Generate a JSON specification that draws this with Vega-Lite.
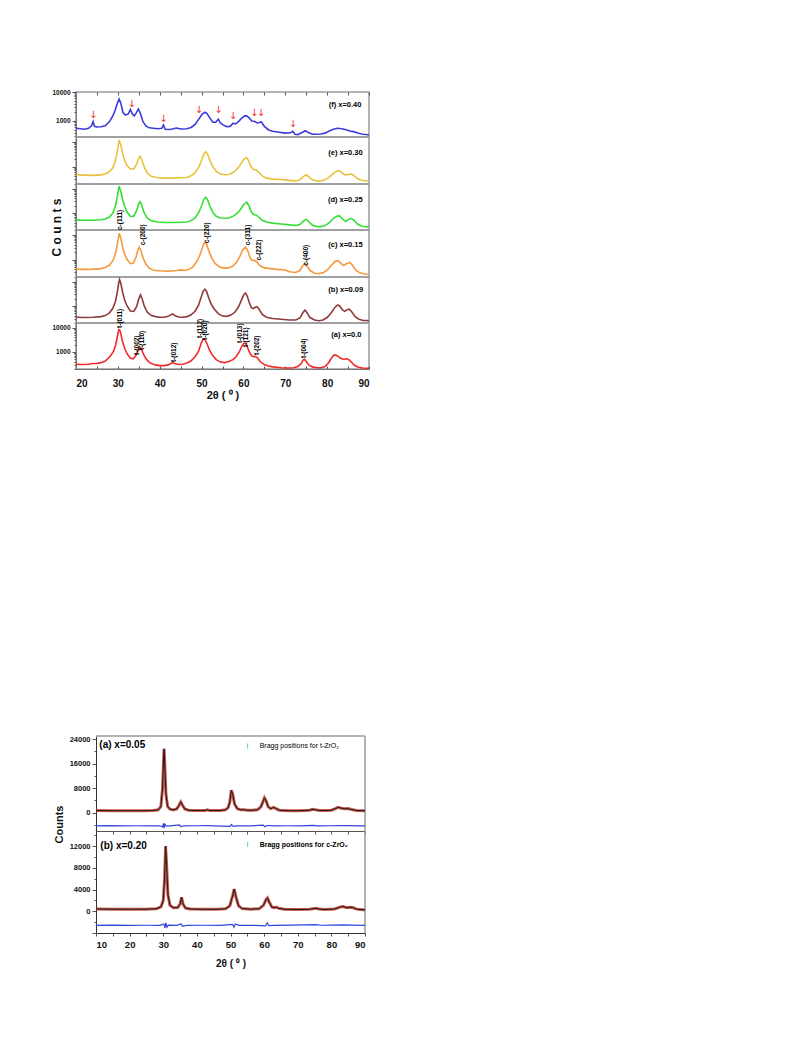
{
"$schema": "https://vega.github.io/schema/vega-lite/v6.json",
"background": "white",
"padding": {"left": 49, "top": 88, "right": 5, "bottom": 5},
"config": {
 "view": {"stroke": "#9a9a9a", "strokeWidth": 1.5},
 "axis": {"labelFont": "Liberation Sans", "labelFontWeight": "bold", "titleFont": "Liberation Sans", "titleFontWeight": "bold", "domainColor": "#777", "tickColor": "#555", "labelColor": "#111", "titleColor": "#111", "grid": false, "domainWidth": 1},
 "text": {"font": "Liberation Sans"}
},
"datasets": {
 "top": [
  {"p":"f","t":20,"v":560},{"p":"f","t":21,"v":540},{"p":"f","t":22,"v":520},{"p":"f","t":23,"v":560},{"p":"f","t":23.7,"v":680},{"p":"f","t":24.1,"v":950},{"p":"f","t":24.4,"v":650},{"p":"f","t":25,"v":620},{"p":"f","t":26,"v":630},{"p":"f","t":27,"v":680},{"p":"f","t":28,"v":950},{"p":"f","t":28.7,"v":1400},{"p":"f","t":29.3,"v":2200},{"p":"f","t":29.8,"v":3800},{"p":"f","t":30.3,"v":5700},{"p":"f","t":30.7,"v":4200},{"p":"f","t":31.2,"v":2000},{"p":"f","t":31.8,"v":1600},{"p":"f","t":32.5,"v":1750},{"p":"f","t":33.0,"v":2500},{"p":"f","t":33.4,"v":1800},{"p":"f","t":33.9,"v":1500},{"p":"f","t":34.4,"v":1900},{"p":"f","t":34.9,"v":2600},{"p":"f","t":35.4,"v":1800},{"p":"f","t":36,"v":950},{"p":"f","t":36.7,"v":680},{"p":"f","t":37.5,"v":580},{"p":"f","t":38.5,"v":560},{"p":"f","t":39.5,"v":540},{"p":"f","t":40.5,"v":560},{"p":"f","t":40.9,"v":730},{"p":"f","t":41.3,"v":520},{"p":"f","t":42.5,"v":510},{"p":"f","t":44,"v":570},{"p":"f","t":45,"v":530},{"p":"f","t":46.5,"v":540},{"p":"f","t":47.5,"v":600},{"p":"f","t":48.5,"v":780},{"p":"f","t":49.1,"v":1050},{"p":"f","t":49.5,"v":1250},{"p":"f","t":50.1,"v":1700},{"p":"f","t":50.8,"v":2000},{"p":"f","t":51.3,"v":1800},{"p":"f","t":52,"v":1250},{"p":"f","t":52.7,"v":900},{"p":"f","t":53.4,"v":900},{"p":"f","t":54,"v":1150},{"p":"f","t":54.5,"v":850},{"p":"f","t":55.2,"v":720},{"p":"f","t":56,"v":640},{"p":"f","t":56.8,"v":650},{"p":"f","t":57.5,"v":830},{"p":"f","t":58.1,"v":800},{"p":"f","t":58.8,"v":950},{"p":"f","t":59.6,"v":1250},{"p":"f","t":60.3,"v":1500},{"p":"f","t":60.8,"v":1520},{"p":"f","t":61.4,"v":1250},{"p":"f","t":62,"v":1000},{"p":"f","t":62.6,"v":980},{"p":"f","t":63.3,"v":850},{"p":"f","t":63.8,"v":880},{"p":"f","t":64.3,"v":920},{"p":"f","t":65,"v":650},{"p":"f","t":66,"v":490},{"p":"f","t":67,"v":440},{"p":"f","t":68.5,"v":410},{"p":"f","t":70,"v":380},{"p":"f","t":71.2,"v":390},{"p":"f","t":71.8,"v":440},{"p":"f","t":72.3,"v":350},{"p":"f","t":73,"v":340},{"p":"f","t":74,"v":400},{"p":"f","t":74.8,"v":460},{"p":"f","t":75.5,"v":400},{"p":"f","t":76.5,"v":350},{"p":"f","t":77.5,"v":350},{"p":"f","t":78.5,"v":355},{"p":"f","t":79.5,"v":380},{"p":"f","t":80.5,"v":450},{"p":"f","t":81.5,"v":520},{"p":"f","t":82.5,"v":560},{"p":"f","t":83.5,"v":540},{"p":"f","t":84.5,"v":500},{"p":"f","t":85.5,"v":450},{"p":"f","t":86.5,"v":420},{"p":"f","t":87.5,"v":380},{"p":"f","t":88.5,"v":350},{"p":"f","t":89.3,"v":340},{"p":"f","t":90,"v":330},

  {"p":"e","t":20,"v":465},{"p":"e","t":22,"v":450},{"p":"e","t":24,"v":440},{"p":"e","t":26,"v":460},{"p":"e","t":27,"v":500},{"p":"e","t":28,"v":620},{"p":"e","t":28.8,"v":900},{"p":"e","t":29.4,"v":1700},{"p":"e","t":29.9,"v":4500},{"p":"e","t":30.3,"v":12000},{"p":"e","t":30.7,"v":7500},{"p":"e","t":31.1,"v":3600},{"p":"e","t":31.6,"v":1800},{"p":"e","t":32.2,"v":1100},{"p":"e","t":33,"v":800},{"p":"e","t":33.8,"v":800},{"p":"e","t":34.5,"v":1300},{"p":"e","t":35,"v":2200},{"p":"e","t":35.3,"v":2600},{"p":"e","t":35.7,"v":1900},{"p":"e","t":36.3,"v":950},{"p":"e","t":37,"v":560},{"p":"e","t":38,"v":400},{"p":"e","t":39.5,"v":350},{"p":"e","t":41,"v":340},{"p":"e","t":43,"v":340},{"p":"e","t":45,"v":350},{"p":"e","t":46.5,"v":360},{"p":"e","t":47.5,"v":420},{"p":"e","t":48.5,"v":580},{"p":"e","t":49.4,"v":1000},{"p":"e","t":50.1,"v":2000},{"p":"e","t":50.6,"v":3400},{"p":"e","t":51,"v":4000},{"p":"e","t":51.4,"v":3300},{"p":"e","t":52,"v":1800},{"p":"e","t":52.7,"v":1000},{"p":"e","t":53.5,"v":650},{"p":"e","t":54.5,"v":500},{"p":"e","t":55.5,"v":465},{"p":"e","t":56.5,"v":480},{"p":"e","t":57.5,"v":570},{"p":"e","t":58.5,"v":800},{"p":"e","t":59.3,"v":1200},{"p":"e","t":60,"v":1900},{"p":"e","t":60.7,"v":2300},{"p":"e","t":61.2,"v":1800},{"p":"e","t":61.8,"v":1000},{"p":"e","t":62.4,"v":760},{"p":"e","t":63,"v":730},{"p":"e","t":63.6,"v":600},{"p":"e","t":64.5,"v":420},{"p":"e","t":65.5,"v":340},{"p":"e","t":67,"v":310},{"p":"e","t":69,"v":300},{"p":"e","t":71,"v":275},{"p":"e","t":72.5,"v":260},{"p":"e","t":73.5,"v":290},{"p":"e","t":74.3,"v":390},{"p":"e","t":75,"v":465},{"p":"e","t":75.6,"v":380},{"p":"e","t":76.5,"v":290},{"p":"e","t":77.5,"v":260},{"p":"e","t":78.5,"v":260},{"p":"e","t":79.5,"v":290},{"p":"e","t":80.5,"v":370},{"p":"e","t":81.5,"v":530},{"p":"e","t":82.4,"v":660},{"p":"e","t":83,"v":680},{"p":"e","t":83.7,"v":520},{"p":"e","t":84.4,"v":460},{"p":"e","t":85.1,"v":480},{"p":"e","t":85.8,"v":500},{"p":"e","t":86.5,"v":420},{"p":"e","t":87.3,"v":320},{"p":"e","t":88.3,"v":280},{"p":"e","t":89.2,"v":265},{"p":"e","t":90,"v":260},

  {"p":"d","t":20,"v":515},{"p":"d","t":22,"v":500},{"p":"d","t":24,"v":500},{"p":"d","t":26,"v":520},{"p":"d","t":27,"v":560},{"p":"d","t":28,"v":680},{"p":"d","t":28.8,"v":1000},{"p":"d","t":29.4,"v":1900},{"p":"d","t":29.9,"v":5000},{"p":"d","t":30.3,"v":13000},{"p":"d","t":30.7,"v":8000},{"p":"d","t":31.1,"v":3800},{"p":"d","t":31.6,"v":1900},{"p":"d","t":32.2,"v":1100},{"p":"d","t":33,"v":720},{"p":"d","t":33.8,"v":740},{"p":"d","t":34.5,"v":1300},{"p":"d","t":35,"v":2500},{"p":"d","t":35.3,"v":2950},{"p":"d","t":35.7,"v":2100},{"p":"d","t":36.3,"v":1000},{"p":"d","t":37,"v":620},{"p":"d","t":38,"v":470},{"p":"d","t":39.5,"v":420},{"p":"d","t":41,"v":400},{"p":"d","t":43,"v":400},{"p":"d","t":45,"v":410},{"p":"d","t":46.5,"v":420},{"p":"d","t":47.5,"v":480},{"p":"d","t":48.5,"v":640},{"p":"d","t":49.4,"v":1100},{"p":"d","t":50.1,"v":2200},{"p":"d","t":50.6,"v":3800},{"p":"d","t":51,"v":4500},{"p":"d","t":51.4,"v":3600},{"p":"d","t":52,"v":1900},{"p":"d","t":52.7,"v":1050},{"p":"d","t":53.5,"v":730},{"p":"d","t":54.5,"v":620},{"p":"d","t":55.5,"v":600},{"p":"d","t":56.5,"v":620},{"p":"d","t":57.5,"v":720},{"p":"d","t":58.5,"v":950},{"p":"d","t":59.3,"v":1400},{"p":"d","t":60,"v":2200},{"p":"d","t":60.8,"v":2800},{"p":"d","t":61.3,"v":2000},{"p":"d","t":61.9,"v":1100},{"p":"d","t":62.5,"v":850},{"p":"d","t":63,"v":830},{"p":"d","t":63.6,"v":680},{"p":"d","t":64.5,"v":500},{"p":"d","t":65.5,"v":420},{"p":"d","t":67,"v":380},{"p":"d","t":69,"v":350},{"p":"d","t":71,"v":320},{"p":"d","t":72.5,"v":300},{"p":"d","t":73.5,"v":330},{"p":"d","t":74.3,"v":460},{"p":"d","t":75,"v":550},{"p":"d","t":75.6,"v":430},{"p":"d","t":76.5,"v":310},{"p":"d","t":77.5,"v":275},{"p":"d","t":78.5,"v":270},{"p":"d","t":79.5,"v":300},{"p":"d","t":80.5,"v":400},{"p":"d","t":81.5,"v":600},{"p":"d","t":82.4,"v":740},{"p":"d","t":83,"v":760},{"p":"d","t":83.7,"v":560},{"p":"d","t":84.4,"v":440},{"p":"d","t":85.1,"v":540},{"p":"d","t":85.8,"v":600},{"p":"d","t":86.5,"v":480},{"p":"d","t":87.3,"v":340},{"p":"d","t":88.3,"v":280},{"p":"d","t":89.2,"v":270},{"p":"d","t":90,"v":265},

  {"p":"c","t":20,"v":410},{"p":"c","t":22,"v":400},{"p":"c","t":24,"v":410},{"p":"c","t":26,"v":430},{"p":"c","t":27,"v":480},{"p":"c","t":28,"v":600},{"p":"c","t":28.8,"v":900},{"p":"c","t":29.4,"v":1700},{"p":"c","t":29.9,"v":4500},{"p":"c","t":30.3,"v":11700},{"p":"c","t":30.7,"v":7500},{"p":"c","t":31.1,"v":3500},{"p":"c","t":31.6,"v":1700},{"p":"c","t":32.2,"v":1000},{"p":"c","t":33,"v":680},{"p":"c","t":33.7,"v":720},{"p":"c","t":34.3,"v":1200},{"p":"c","t":34.8,"v":2500},{"p":"c","t":35.1,"v":3250},{"p":"c","t":35.5,"v":2400},{"p":"c","t":36,"v":1200},{"p":"c","t":36.7,"v":650},{"p":"c","t":37.5,"v":450},{"p":"c","t":38.5,"v":370},{"p":"c","t":40,"v":350},{"p":"c","t":42,"v":340},{"p":"c","t":44,"v":360},{"p":"c","t":45,"v":380},{"p":"c","t":46,"v":360},{"p":"c","t":47,"v":400},{"p":"c","t":48,"v":520},{"p":"c","t":49,"v":900},{"p":"c","t":49.7,"v":1700},{"p":"c","t":50.3,"v":3500},{"p":"c","t":50.8,"v":5300},{"p":"c","t":51.2,"v":4200},{"p":"c","t":51.8,"v":2100},{"p":"c","t":52.5,"v":1100},{"p":"c","t":53.3,"v":680},{"p":"c","t":54.3,"v":500},{"p":"c","t":55.3,"v":450},{"p":"c","t":56.3,"v":460},{"p":"c","t":57.3,"v":520},{"p":"c","t":58.3,"v":750},{"p":"c","t":59.1,"v":1300},{"p":"c","t":59.8,"v":2400},{"p":"c","t":60.5,"v":3250},{"p":"c","t":61,"v":2400},{"p":"c","t":61.5,"v":1300},{"p":"c","t":62,"v":950},{"p":"c","t":62.6,"v":930},{"p":"c","t":63.2,"v":800},{"p":"c","t":64,"v":560},{"p":"c","t":65,"v":460},{"p":"c","t":66,"v":440},{"p":"c","t":68,"v":400},{"p":"c","t":70,"v":380},{"p":"c","t":71,"v":320},{"p":"c","t":72.5,"v":300},{"p":"c","t":73.5,"v":360},{"p":"c","t":74.2,"v":580},{"p":"c","t":74.7,"v":700},{"p":"c","t":75.2,"v":540},{"p":"c","t":76,"v":350},{"p":"c","t":77,"v":280},{"p":"c","t":78,"v":270},{"p":"c","t":79,"v":290},{"p":"c","t":80,"v":370},{"p":"c","t":81,"v":580},{"p":"c","t":81.9,"v":850},{"p":"c","t":82.6,"v":910},{"p":"c","t":83.2,"v":720},{"p":"c","t":83.9,"v":580},{"p":"c","t":84.6,"v":680},{"p":"c","t":85.4,"v":770},{"p":"c","t":86,"v":600},{"p":"c","t":86.8,"v":380},{"p":"c","t":87.8,"v":290},{"p":"c","t":89,"v":260},{"p":"c","t":90,"v":250},

  {"p":"b","t":20,"v":340},{"p":"b","t":22,"v":330},{"p":"b","t":24,"v":340},{"p":"b","t":26,"v":360},{"p":"b","t":27,"v":400},{"p":"b","t":28,"v":520},{"p":"b","t":28.8,"v":800},{"p":"b","t":29.4,"v":1500},{"p":"b","t":29.9,"v":4000},{"p":"b","t":30.2,"v":9000},{"p":"b","t":30.4,"v":12500},{"p":"b","t":30.7,"v":9000},{"p":"b","t":31.1,"v":4000},{"p":"b","t":31.6,"v":1800},{"p":"b","t":32.2,"v":1000},{"p":"b","t":33,"v":620},{"p":"b","t":33.8,"v":600},{"p":"b","t":34.5,"v":950},{"p":"b","t":35,"v":2000},{"p":"b","t":35.4,"v":2900},{"p":"b","t":35.8,"v":2000},{"p":"b","t":36.3,"v":1000},{"p":"b","t":37,"v":560},{"p":"b","t":38,"v":400},{"p":"b","t":39,"v":360},{"p":"b","t":40,"v":340},{"p":"b","t":41,"v":340},{"p":"b","t":42,"v":370},{"p":"b","t":42.7,"v":430},{"p":"b","t":43.1,"v":470},{"p":"b","t":43.6,"v":400},{"p":"b","t":44.5,"v":350},{"p":"b","t":45.5,"v":340},{"p":"b","t":46.5,"v":360},{"p":"b","t":47.5,"v":430},{"p":"b","t":48.5,"v":620},{"p":"b","t":49.3,"v":1100},{"p":"b","t":49.9,"v":2300},{"p":"b","t":50.4,"v":4200},{"p":"b","t":50.8,"v":5000},{"p":"b","t":51.2,"v":4000},{"p":"b","t":51.7,"v":2200},{"p":"b","t":52.3,"v":1200},{"p":"b","t":53,"v":750},{"p":"b","t":54,"v":480},{"p":"b","t":55,"v":380},{"p":"b","t":56,"v":370},{"p":"b","t":57,"v":420},{"p":"b","t":58,"v":560},{"p":"b","t":58.8,"v":900},{"p":"b","t":59.5,"v":1700},{"p":"b","t":60.1,"v":3000},{"p":"b","t":60.5,"v":3400},{"p":"b","t":60.9,"v":2600},{"p":"b","t":61.4,"v":1400},{"p":"b","t":61.9,"v":850},{"p":"b","t":62.4,"v":780},{"p":"b","t":62.9,"v":900},{"p":"b","t":63.3,"v":920},{"p":"b","t":63.8,"v":700},{"p":"b","t":64.5,"v":450},{"p":"b","t":65.5,"v":340},{"p":"b","t":67,"v":300},{"p":"b","t":69,"v":280},{"p":"b","t":71,"v":260},{"p":"b","t":72.5,"v":260},{"p":"b","t":73.5,"v":320},{"p":"b","t":74.2,"v":520},{"p":"b","t":74.7,"v":680},{"p":"b","t":75.2,"v":520},{"p":"b","t":75.9,"v":330},{"p":"b","t":77,"v":260},{"p":"b","t":78,"v":245},{"p":"b","t":79,"v":260},{"p":"b","t":80,"v":330},{"p":"b","t":81,"v":520},{"p":"b","t":81.8,"v":850},{"p":"b","t":82.5,"v":1100},{"p":"b","t":83,"v":1000},{"p":"b","t":83.6,"v":700},{"p":"b","t":84.2,"v":600},{"p":"b","t":84.8,"v":700},{"p":"b","t":85.3,"v":740},{"p":"b","t":85.9,"v":560},{"p":"b","t":86.7,"v":360},{"p":"b","t":87.6,"v":280},{"p":"b","t":88.6,"v":250},{"p":"b","t":90,"v":245},

  {"p":"a","t":20,"v":310},{"p":"a","t":21,"v":300},{"p":"a","t":22,"v":300},{"p":"a","t":23,"v":310},{"p":"a","t":24,"v":330},{"p":"a","t":25,"v":330},{"p":"a","t":26,"v":360},{"p":"a","t":27,"v":420},{"p":"a","t":28,"v":620},{"p":"a","t":28.5,"v":800},{"p":"a","t":29,"v":1100},{"p":"a","t":29.5,"v":2000},{"p":"a","t":29.9,"v":4500},{"p":"a","t":30.2,"v":8500},{"p":"a","t":30.5,"v":8000},{"p":"a","t":30.8,"v":4800},{"p":"a","t":31.2,"v":2400},{"p":"a","t":31.7,"v":1300},{"p":"a","t":32.3,"v":800},{"p":"a","t":33,"v":560},{"p":"a","t":33.7,"v":520},{"p":"a","t":34.3,"v":700},{"p":"a","t":34.8,"v":1200},{"p":"a","t":35.2,"v":1650},{"p":"a","t":35.6,"v":1400},{"p":"a","t":36,"v":900},{"p":"a","t":36.6,"v":560},{"p":"a","t":37.3,"v":400},{"p":"a","t":38,"v":330},{"p":"a","t":39,"v":290},{"p":"a","t":40,"v":270},{"p":"a","t":41,"v":270},{"p":"a","t":42,"v":290},{"p":"a","t":42.7,"v":330},{"p":"a","t":43.1,"v":380},{"p":"a","t":43.5,"v":330},{"p":"a","t":44.5,"v":300},{"p":"a","t":45.5,"v":310},{"p":"a","t":46.5,"v":350},{"p":"a","t":47.5,"v":430},{"p":"a","t":48.5,"v":650},{"p":"a","t":49.3,"v":1100},{"p":"a","t":49.9,"v":2300},{"p":"a","t":50.4,"v":3500},{"p":"a","t":50.8,"v":3300},{"p":"a","t":51.3,"v":2200},{"p":"a","t":51.9,"v":1200},{"p":"a","t":52.6,"v":720},{"p":"a","t":53.5,"v":480},{"p":"a","t":54.5,"v":380},{"p":"a","t":55.5,"v":360},{"p":"a","t":56.5,"v":400},{"p":"a","t":57.5,"v":480},{"p":"a","t":58.3,"v":650},{"p":"a","t":59,"v":1000},{"p":"a","t":59.6,"v":1700},{"p":"a","t":60.1,"v":2300},{"p":"a","t":60.5,"v":2300},{"p":"a","t":60.9,"v":1700},{"p":"a","t":61.4,"v":1000},{"p":"a","t":61.9,"v":700},{"p":"a","t":62.4,"v":640},{"p":"a","t":62.9,"v":650},{"p":"a","t":63.4,"v":560},{"p":"a","t":64,"v":400},{"p":"a","t":65,"v":300},{"p":"a","t":66,"v":260},{"p":"a","t":67,"v":240},{"p":"a","t":68,"v":230},{"p":"a","t":69,"v":220},{"p":"a","t":70,"v":215},{"p":"a","t":71,"v":215},{"p":"a","t":72,"v":220},{"p":"a","t":73,"v":250},{"p":"a","t":73.8,"v":330},{"p":"a","t":74.3,"v":470},{"p":"a","t":74.6,"v":500},{"p":"a","t":75,"v":400},{"p":"a","t":75.6,"v":290},{"p":"a","t":76.5,"v":240},{"p":"a","t":77.5,"v":220},{"p":"a","t":78.5,"v":220},{"p":"a","t":79.5,"v":250},{"p":"a","t":80.3,"v":350},{"p":"a","t":81,"v":550},{"p":"a","t":81.6,"v":740},{"p":"a","t":82.1,"v":750},{"p":"a","t":82.7,"v":640},{"p":"a","t":83.3,"v":540},{"p":"a","t":84,"v":500},{"p":"a","t":84.7,"v":520},{"p":"a","t":85.2,"v":480},{"p":"a","t":85.8,"v":380},{"p":"a","t":86.5,"v":280},{"p":"a","t":87.5,"v":230},{"p":"a","t":88.5,"v":215},{"p":"a","t":90,"v":210}
 ],
 "arrows": [
  {"t":24.1,"v":1260},{"t":33.3,"v":3000},{"t":40.9,"v":930},{"t":49.4,"v":1900},{"t":54.0,"v":1900},{"t":57.5,"v":1170},{"t":62.6,"v":1490},{"t":64.2,"v":1490},{"t":71.8,"v":620}
 ],
 "tlab": [
  {"p":"f","t":88.2,"v":3550,"s":"(f) x=0.40"},
  {"p":"e","t":88.5,"v":3560,"s":"(e) x=0.30"},
  {"p":"d","t":88.5,"v":3460,"s":"(d) x=0.25"},
  {"p":"c","t":88.5,"v":3800,"s":"(c) x=0.15"},
  {"p":"b","t":88.6,"v":4600,"s":"(b) x=0.09"},
  {"p":"a","t":88.2,"v":5070,"s":"(a) x=0.0"}
 ],
 "hkl": [
  {"p":"c","t":30.6,"v":16000,"s":"c-(111)"},
  {"p":"c","t":35.9,"v":3830,"s":"c-(200)"},
  {"p":"c","t":51.2,"v":4640,"s":"c-(220)"},
  {"p":"c","t":61.0,"v":3830,"s":"c-(311)"},
  {"p":"c","t":63.7,"v":910,"s":"c-(222)"},
  {"p":"c","t":74.9,"v":560,"s":"c-(400)"},
  {"p":"a","t":30.5,"v":10000,"s":"t-(011)"},
  {"p":"a","t":34.6,"v":750,"s":"t-(002)"},
  {"p":"a","t":35.8,"v":1210,"s":"t-(110)"},
  {"p":"a","t":43.5,"v":380,"s":"t-(012)"},
  {"p":"a","t":49.7,"v":3830,"s":"t-(112)"},
  {"p":"a","t":50.8,"v":3160,"s":"t-(020)"},
  {"p":"a","t":59.2,"v":2370,"s":"t-(013)"},
  {"p":"a","t":60.5,"v":1620,"s":"t-(121)"},
  {"p":"a","t":63.2,"v":750,"s":"t-(202)"},
  {"p":"a","t":74.5,"v":560,"s":"t-(004)"}
 ],
 "obs": [
  {"p":"a","t":10,"v":650},{"p":"a","t":15,"v":620},{"p":"a","t":20,"v":600},{"p":"a","t":24,"v":620},{"p":"a","t":27,"v":700},{"p":"a","t":28.5,"v":900},{"p":"a","t":29.3,"v":2000},{"p":"a","t":29.8,"v":8000},{"p":"a","t":30.1,"v":17500},{"p":"a","t":30.25,"v":20800},{"p":"a","t":30.45,"v":16000},{"p":"a","t":30.8,"v":6000},{"p":"a","t":31.3,"v":2000},{"p":"a","t":32,"v":1100},{"p":"a","t":33,"v":900},{"p":"a","t":34,"v":1200},{"p":"a","t":34.7,"v":2400},{"p":"a","t":35.2,"v":3500},{"p":"a","t":35.7,"v":2500},{"p":"a","t":36.4,"v":1200},{"p":"a","t":37.5,"v":800},{"p":"a","t":39,"v":700},{"p":"a","t":41,"v":680},{"p":"a","t":42.5,"v":720},{"p":"a","t":43.1,"v":880},{"p":"a","t":43.7,"v":720},{"p":"a","t":45,"v":680},{"p":"a","t":47,"v":700},{"p":"a","t":48.5,"v":900},{"p":"a","t":49.3,"v":1600},{"p":"a","t":49.8,"v":3500},{"p":"a","t":50.25,"v":7300},{"p":"a","t":50.7,"v":5800},{"p":"a","t":51.2,"v":2800},{"p":"a","t":52,"v":1300},{"p":"a","t":53,"v":900},{"p":"a","t":54,"v":900},{"p":"a","t":55,"v":780},{"p":"a","t":56.5,"v":750},{"p":"a","t":58,"v":950},{"p":"a","t":59,"v":1800},{"p":"a","t":59.6,"v":3400},{"p":"a","t":60.1,"v":4800},{"p":"a","t":60.6,"v":3800},{"p":"a","t":61.2,"v":1900},{"p":"a","t":62,"v":1300},{"p":"a","t":62.8,"v":1700},{"p":"a","t":63.4,"v":1400},{"p":"a","t":64.5,"v":800},{"p":"a","t":66,"v":650},{"p":"a","t":68,"v":600},{"p":"a","t":70,"v":620},{"p":"a","t":72,"v":650},{"p":"a","t":73.5,"v":800},{"p":"a","t":74.5,"v":1100},{"p":"a","t":75.3,"v":900},{"p":"a","t":76.5,"v":700},{"p":"a","t":78,"v":650},{"p":"a","t":80,"v":800},{"p":"a","t":81,"v":1200},{"p":"a","t":82,"v":1700},{"p":"a","t":83,"v":1450},{"p":"a","t":84,"v":1250},{"p":"a","t":85,"v":1300},{"p":"a","t":86,"v":1000},{"p":"a","t":87.5,"v":700},{"p":"a","t":90,"v":600},
  {"p":"b","t":10,"v":420},{"p":"b","t":15,"v":400},{"p":"b","t":20,"v":380},{"p":"b","t":25,"v":400},{"p":"b","t":28,"v":480},{"p":"b","t":29.3,"v":800},{"p":"b","t":30,"v":2000},{"p":"b","t":30.4,"v":6000},{"p":"b","t":30.7,"v":12000},{"p":"b","t":31,"v":8500},{"p":"b","t":31.4,"v":3000},{"p":"b","t":32,"v":1100},{"p":"b","t":33,"v":650},{"p":"b","t":34.3,"v":700},{"p":"b","t":35,"v":1300},{"p":"b","t":35.45,"v":2580},{"p":"b","t":35.9,"v":1300},{"p":"b","t":36.6,"v":600},{"p":"b","t":38,"v":420},{"p":"b","t":42,"v":380},{"p":"b","t":46,"v":370},{"p":"b","t":48.5,"v":450},{"p":"b","t":49.8,"v":1000},{"p":"b","t":50.6,"v":2800},{"p":"b","t":51.1,"v":4100},{"p":"b","t":51.6,"v":2700},{"p":"b","t":52.4,"v":1000},{"p":"b","t":53.5,"v":500},{"p":"b","t":56,"v":400},{"p":"b","t":58.5,"v":480},{"p":"b","t":59.8,"v":1100},{"p":"b","t":60.6,"v":2200},{"p":"b","t":61,"v":2450},{"p":"b","t":61.5,"v":1700},{"p":"b","t":62.3,"v":800},{"p":"b","t":63,"v":650},{"p":"b","t":63.6,"v":760},{"p":"b","t":64.3,"v":550},{"p":"b","t":66,"v":380},{"p":"b","t":70,"v":330},{"p":"b","t":73.5,"v":380},{"p":"b","t":75,"v":520},{"p":"b","t":75.5,"v":560},{"p":"b","t":76.3,"v":420},{"p":"b","t":78,"v":330},{"p":"b","t":81,"v":420},{"p":"b","t":82.7,"v":800},{"p":"b","t":83.5,"v":880},{"p":"b","t":84.6,"v":650},{"p":"b","t":85.6,"v":760},{"p":"b","t":86.3,"v":700},{"p":"b","t":87.5,"v":400},{"p":"b","t":90,"v":260}
 ],
 "diff": [
  {"p":"a","t":10,"v":-4300},{"p":"a","t":14,"v":-4250},{"p":"a","t":18,"v":-4320},{"p":"a","t":22,"v":-4280},{"p":"a","t":26,"v":-4300},{"p":"a","t":29,"v":-4300},{"p":"a","t":29.8,"v":-4700},{"p":"a","t":30.05,"v":-3500},{"p":"a","t":30.25,"v":-5100},{"p":"a","t":30.5,"v":-3800},{"p":"a","t":30.9,"v":-4400},{"p":"a","t":32,"v":-4300},{"p":"a","t":34.8,"v":-4000},{"p":"a","t":35.3,"v":-4600},{"p":"a","t":36,"v":-4300},{"p":"a","t":40,"v":-4280},{"p":"a","t":43,"v":-4200},{"p":"a","t":45,"v":-4300},{"p":"a","t":49.9,"v":-4500},{"p":"a","t":50.3,"v":-3900},{"p":"a","t":50.8,"v":-4500},{"p":"a","t":52,"v":-4300},{"p":"a","t":56,"v":-4320},{"p":"a","t":59.7,"v":-4100},{"p":"a","t":60.2,"v":-4600},{"p":"a","t":60.8,"v":-4200},{"p":"a","t":63,"v":-4300},{"p":"a","t":67,"v":-4280},{"p":"a","t":71,"v":-4300},{"p":"a","t":74.5,"v":-4150},{"p":"a","t":76,"v":-4300},{"p":"a","t":80,"v":-4280},{"p":"a","t":82,"v":-4200},{"p":"a","t":85,"v":-4250},{"p":"a","t":88,"v":-4300},{"p":"a","t":90,"v":-4300},
  {"p":"b","t":10,"v":-2600},{"p":"b","t":15,"v":-2550},{"p":"b","t":20,"v":-2600},{"p":"b","t":25,"v":-2570},{"p":"b","t":29,"v":-2600},{"p":"b","t":30.2,"v":-2350},{"p":"b","t":30.5,"v":-3050},{"p":"b","t":30.8,"v":-2150},{"p":"b","t":31.1,"v":-2950},{"p":"b","t":31.5,"v":-2550},{"p":"b","t":34,"v":-2600},{"p":"b","t":35.3,"v":-2350},{"p":"b","t":35.7,"v":-2750},{"p":"b","t":37,"v":-2600},{"p":"b","t":42,"v":-2570},{"p":"b","t":47,"v":-2600},{"p":"b","t":50.6,"v":-2400},{"p":"b","t":51,"v":-2950},{"p":"b","t":51.4,"v":-2350},{"p":"b","t":52.5,"v":-2600},{"p":"b","t":57,"v":-2600},{"p":"b","t":60.4,"v":-2700},{"p":"b","t":60.9,"v":-2150},{"p":"b","t":61.4,"v":-2650},{"p":"b","t":63,"v":-2600},{"p":"b","t":68,"v":-2550},{"p":"b","t":75.3,"v":-2450},{"p":"b","t":77,"v":-2570},{"p":"b","t":83.5,"v":-2500},{"p":"b","t":86,"v":-2550},{"p":"b","t":90,"v":-2600}
 ],
 "bragg": [
  {"p":"a","t":30.2},{"p":"a","t":34.6},{"p":"a","t":35.1},{"p":"a","t":43.1},{"p":"a","t":50.3},{"p":"a","t":50.8},{"p":"a","t":53.8},{"p":"a","t":59.5},{"p":"a","t":60.1},{"p":"a","t":62.9},{"p":"a","t":69.1},{"p":"a","t":73.3},{"p":"a","t":74.0},{"p":"a","t":74.8},{"p":"a","t":76.6},{"p":"a","t":79.0},{"p":"a","t":82.3},{"p":"a","t":83.0},{"p":"a","t":84.6},{"p":"a","t":85.5},{"p":"a","t":88.2},
  {"p":"b","t":30.4},{"p":"b","t":35.4},{"p":"b","t":50.8},{"p":"b","t":60.7},{"p":"b","t":63.6},{"p":"b","t":75.0},{"p":"b","t":83.3},{"p":"b","t":86.0}
 ],
 "blab": [
  {"p":"a","t":11.0,"v":22000,"s":"(a) x=0.05"},
  {"p":"b","t":11.3,"v":12100,"s":"(b) x=0.20"}
 ],
 "bleg": [
  {"p":"a","t":55.1,"v":21700,"s":"Bragg positions for t-ZrO₂"},
  {"p":"b","t":55.1,"v":12300,"s":"Bragg positions for c-ZrO₂"}
 ]
},
"columns": 1,
"align": "none",
"spacing": 334,
"concat": [
 {
  "spacing": 0,
  "bounds": "flush",
  "vconcat": [
   {
    "width": 293, "height": 45,
    "encoding": {
     "x": {"field": "t", "type": "quantitative", "scale": {"domain": [20, 90], "nice": false}, "axis": {"orient": "top", "labels": false, "title": null, "values": [20,25,30,35,40,45,50,55,60,65,70,75,80,85,90], "tickSize": -3, "domain": false}},
     "y": {"field": "v", "type": "quantitative", "scale": {"type": "log", "domain": [280, 10000], "nice": false}, "axis": {"title": null, "values": [300,400,500,600,700,800,900,1000,2000,3000,4000,5000,6000,7000,8000,9000,10000], "format": "d", "labelExpr": "datum.value == 1000 || datum.value == 10000 ? datum.label : ''", "tickSize": {"condition": {"test": "datum.value == 1000 || datum.value == 10000", "value": 4}, "value": 2}, "labelFontSize": 6.5, "labelPadding": 2}}
    },
    "layer": [
     {"data": {"name": "top"}, "transform": [{"filter": "datum.p == 'f'"}], "mark": {"type": "line", "color": "#3b3bdc", "strokeWidth": 1.6}},
     {"data": {"name": "arrows"}, "mark": {"type": "text", "text": "↓", "color": "#ff2a2a", "fontSize": 10, "baseline": "alphabetic", "font": "DejaVu Sans"}},
     {"data": {"name": "tlab"}, "transform": [{"filter": "datum.p == 'f'"}], "mark": {"type": "text", "align": "right", "baseline": "middle", "fontWeight": "bold", "fontSize": 7.5}, "encoding": {"text": {"field": "s"}}}
    ]
   },
   {
    "width": 293, "height": 47,
    "encoding": {
     "x": {"field": "t", "type": "quantitative", "scale": {"domain": [20, 90], "nice": false}, "axis": null},
     "y": {"field": "v", "type": "quantitative", "scale": {"type": "log", "domain": [196, 16000], "nice": false}, "axis": {"title": null, "values": [200,300,400,500,600,700,800,900,1000,2000,3000,4000,5000,6000,7000,8000,9000,10000], "labels": false, "tickSize": {"condition": {"test": "datum.value == 1000 || datum.value == 10000", "value": 4}, "value": 2}}}
    },
    "layer": [
     {"data": {"name": "top"}, "transform": [{"filter": "datum.p == 'e'"}], "mark": {"type": "line", "color": "#e8c13a", "strokeWidth": 1.6}},
     {"data": {"name": "tlab"}, "transform": [{"filter": "datum.p == 'e'"}], "mark": {"type": "text", "align": "right", "baseline": "middle", "fontWeight": "bold", "fontSize": 7.5}, "encoding": {"text": {"field": "s"}}}
    ]
   },
   {
    "width": 293, "height": 46,
    "encoding": {
     "x": {"field": "t", "type": "quantitative", "scale": {"domain": [20, 90], "nice": false}, "axis": null},
     "y": {"field": "v", "type": "quantitative", "scale": {"type": "log", "domain": [196, 16000], "nice": false}, "axis": {"title": "C o u n t s", "titleFontSize": 12, "titleY": 43, "titlePadding": 8, "values": [200,300,400,500,600,700,800,900,1000,2000,3000,4000,5000,6000,7000,8000,9000,10000], "labels": false, "tickSize": {"condition": {"test": "datum.value == 1000 || datum.value == 10000", "value": 4}, "value": 2}}}
    },
    "layer": [
     {"data": {"name": "top"}, "transform": [{"filter": "datum.p == 'd'"}], "mark": {"type": "line", "color": "#35de35", "strokeWidth": 1.6}},
     {"data": {"name": "tlab"}, "transform": [{"filter": "datum.p == 'd'"}], "mark": {"type": "text", "align": "right", "baseline": "middle", "fontWeight": "bold", "fontSize": 7.5}, "encoding": {"text": {"field": "s"}}}
    ]
   },
   {
    "width": 293, "height": 47,
    "encoding": {
     "x": {"field": "t", "type": "quantitative", "scale": {"domain": [20, 90], "nice": false}, "axis": null},
     "y": {"field": "v", "type": "quantitative", "scale": {"type": "log", "domain": [196, 16000], "nice": false}, "axis": {"title": null, "values": [200,300,400,500,600,700,800,900,1000,2000,3000,4000,5000,6000,7000,8000,9000,10000], "labels": false, "tickSize": {"condition": {"test": "datum.value == 1000 || datum.value == 10000", "value": 4}, "value": 2}}}
    },
    "layer": [
     {"data": {"name": "top"}, "transform": [{"filter": "datum.p == 'c'"}], "mark": {"type": "line", "color": "#f39a3d", "strokeWidth": 1.6}},
     {"data": {"name": "hkl"}, "transform": [{"filter": "datum.p == 'c'"}], "mark": {"type": "text", "angle": 270, "align": "left", "baseline": "middle", "fontWeight": "bold", "fontSize": 6.5}, "encoding": {"text": {"field": "s"}}},
     {"data": {"name": "tlab"}, "transform": [{"filter": "datum.p == 'c'"}], "mark": {"type": "text", "align": "right", "baseline": "middle", "fontWeight": "bold", "fontSize": 7.5}, "encoding": {"text": {"field": "s"}}}
    ]
   },
   {
    "width": 293, "height": 46,
    "encoding": {
     "x": {"field": "t", "type": "quantitative", "scale": {"domain": [20, 90], "nice": false}, "axis": null},
     "y": {"field": "v", "type": "quantitative", "scale": {"type": "log", "domain": [196, 16000], "nice": false}, "axis": {"title": null, "values": [200,300,400,500,600,700,800,900,1000,2000,3000,4000,5000,6000,7000,8000,9000,10000], "labels": false, "tickSize": {"condition": {"test": "datum.value == 1000 || datum.value == 10000", "value": 4}, "value": 2}}}
    },
    "layer": [
     {"data": {"name": "top"}, "transform": [{"filter": "datum.p == 'b'"}], "mark": {"type": "line", "color": "#8e3a3a", "strokeWidth": 1.6}},
     {"data": {"name": "tlab"}, "transform": [{"filter": "datum.p == 'b'"}], "mark": {"type": "text", "align": "right", "baseline": "middle", "fontWeight": "bold", "fontSize": 7.5}, "encoding": {"text": {"field": "s"}}}
    ]
   },
   {
    "width": 293, "height": 46,
    "encoding": {
     "x": {"field": "t", "type": "quantitative", "scale": {"domain": [20, 90], "nice": false}, "axis": {"values": [20,25,30,35,40,45,50,55,60,65,70,75,80,85,90], "labelExpr": "datum.value % 10 == 0 ? datum.label : ''", "tickSize": -3, "labelFontSize": 10, "labelPadding": 12, "title": "2θ ( ⁰ )", "titleFontSize": 11, "titlePadding": 1}},
     "y": {"field": "v", "type": "quantitative", "scale": {"type": "log", "domain": [196, 16000], "nice": false}, "axis": {"title": null, "values": [200,300,400,500,600,700,800,900,1000,2000,3000,4000,5000,6000,7000,8000,9000,10000], "format": "d", "labelExpr": "datum.value == 1000 || datum.value == 10000 ? datum.label : ''", "tickSize": {"condition": {"test": "datum.value == 1000 || datum.value == 10000", "value": 4}, "value": 2}, "labelFontSize": 6.5, "labelPadding": 2}}
    },
    "layer": [
     {"data": {"name": "top"}, "transform": [{"filter": "datum.p == 'a'"}], "mark": {"type": "line", "color": "#ee2a2a", "strokeWidth": 1.6}},
     {"data": {"name": "hkl"}, "transform": [{"filter": "datum.p == 'a'"}], "mark": {"type": "text", "angle": 270, "align": "left", "baseline": "middle", "fontWeight": "bold", "fontSize": 6.5}, "encoding": {"text": {"field": "s"}}},
     {"data": {"name": "tlab"}, "transform": [{"filter": "datum.p == 'a'"}], "mark": {"type": "text", "align": "right", "baseline": "middle", "fontWeight": "bold", "fontSize": 7.5}, "encoding": {"text": {"field": "s"}}}
    ]
   }
  ]
 },
 {
  "spacing": 0,
  "bounds": "flush",
  "vconcat": [
   {
    "width": 289, "height": 95,
    "view": {"stroke": null},
    "encoding": {
     "x": {"field": "t", "type": "quantitative", "scale": {"domain": [10, 90], "nice": false, "range": [20, 289]}, "axis": {"values": [10,15,20,25,30,35,40,45,50,55,60,65,70,75,80,85,90], "labels": false, "tickSize": 3, "title": null, "domainColor": "#555"}},
     "y": {"field": "v", "type": "quantitative", "scale": {"domain": [-6000, 25000], "nice": false, "zero": false}, "axis": {"offset": -20, "values": [-4000,0,4000,8000,12000,16000,20000,24000], "format": "d", "labelExpr": "datum.value % 8000 == 0 && datum.value >= 0 ? datum.label : ''", "tickSize": {"condition": {"test": "datum.value % 8000 == 0", "value": 4}, "value": 2}, "labelFontSize": 7.5, "labelPadding": 2, "title": "Counts", "titleFontSize": 11, "titleY": 88, "titlePadding": 5, "domainColor": "#333"}}
    },
    "layer": [
     {"data": {"name": "blab"}, "transform": [{"filter": "datum.p == 'a'"}], "mark": {"type": "rule", "color": "#9a9a9a", "strokeWidth": 1.5}, "encoding": {"x": {"datum": 90}, "y": {"datum": 25000}, "y2": {"datum": -6000}}},
     {"data": {"name": "blab"}, "transform": [{"filter": "datum.p == 'a'"}], "mark": {"type": "rule", "color": "#9a9a9a", "strokeWidth": 1.5}, "encoding": {"x": {"datum": 10}, "x2": {"datum": 90}, "y": {"datum": 25000}}},
     {"data": {"name": "obs"}, "transform": [{"filter": "datum.p == 'a'"}], "mark": {"type": "line", "color": "#c0392b", "strokeWidth": 3, "opacity": 0.85}},
     {"data": {"name": "obs"}, "transform": [{"filter": "datum.p == 'a'"}], "mark": {"type": "line", "color": "#1a1a1a", "strokeWidth": 1}},
     {"data": {"name": "diff"}, "transform": [{"filter": "datum.p == 'a'"}], "mark": {"type": "line", "color": "#3344dd", "strokeWidth": 1.2}},
     {"data": {"name": "bragg"}, "transform": [{"filter": "datum.p == 'a'"}], "mark": {"type": "tick", "orient": "vertical", "size": 5, "thickness": 1, "color": "#33bb55"}, "encoding": {"y": {"datum": -850}}},
     {"data": {"name": "bleg"}, "transform": [{"filter": "datum.p == 'a'"}], "mark": {"type": "tick", "orient": "vertical", "size": 5, "thickness": 1, "color": "#33bb55"}},
     {"data": {"name": "bleg"}, "transform": [{"filter": "datum.p == 'a'"}], "mark": {"type": "text", "align": "left", "baseline": "middle", "fontSize": 7, "dx": 12}, "encoding": {"text": {"field": "s"}}},
     {"data": {"name": "blab"}, "transform": [{"filter": "datum.p == 'a'"}], "mark": {"type": "text", "align": "left", "baseline": "middle", "fontSize": 10, "fontWeight": "bold"}, "encoding": {"text": {"field": "s"}}}
    ]
   },
   {
    "width": 289, "height": 102,
    "view": {"stroke": null},
    "encoding": {
     "x": {"field": "t", "type": "quantitative", "scale": {"domain": [10, 90], "nice": false, "range": [20, 289]}, "axis": {"values": [10,15,20,25,30,35,40,45,50,55,60,65,70,75,80,85,90], "labelExpr": "datum.value % 10 == 0 ? datum.label : ''", "tickSize": 3, "labelFontSize": 9.5, "labelPadding": 3, "title": "2θ ( ⁰ )", "titleFontSize": 10, "titlePadding": 10, "domainColor": "#333"}},
     "y": {"field": "v", "type": "quantitative", "scale": {"domain": [-4000, 14800], "nice": false, "zero": false}, "axis": {"offset": -20, "values": [-4000,-2000,0,2000,4000,6000,8000,10000,12000,14000], "format": "d", "labelExpr": "datum.value % 4000 == 0 && datum.value >= 0 ? datum.label : ''", "tickSize": {"condition": {"test": "datum.value % 4000 == 0", "value": 4}, "value": 2}, "labelFontSize": 7.5, "labelPadding": 2, "title": null, "domainColor": "#333"}}
    },
    "layer": [
     {"data": {"name": "blab"}, "transform": [{"filter": "datum.p == 'b'"}], "mark": {"type": "rule", "color": "#9a9a9a", "strokeWidth": 1.5}, "encoding": {"x": {"datum": 90}, "y": {"datum": 14800}, "y2": {"datum": -4000}}},
     {"data": {"name": "obs"}, "transform": [{"filter": "datum.p == 'b'"}], "mark": {"type": "line", "color": "#c0392b", "strokeWidth": 3, "opacity": 0.85}},
     {"data": {"name": "obs"}, "transform": [{"filter": "datum.p == 'b'"}], "mark": {"type": "line", "color": "#1a1a1a", "strokeWidth": 1}},
     {"data": {"name": "diff"}, "transform": [{"filter": "datum.p == 'b'"}], "mark": {"type": "line", "color": "#3344dd", "strokeWidth": 1.2}},
     {"data": {"name": "bragg"}, "transform": [{"filter": "datum.p == 'b'"}], "mark": {"type": "tick", "orient": "vertical", "size": 5, "thickness": 1, "color": "#33bb55"}, "encoding": {"y": {"datum": -550}}},
     {"data": {"name": "bleg"}, "transform": [{"filter": "datum.p == 'b'"}], "mark": {"type": "tick", "orient": "vertical", "size": 5, "thickness": 1, "color": "#33bb55"}},
     {"data": {"name": "bleg"}, "transform": [{"filter": "datum.p == 'b'"}], "mark": {"type": "text", "align": "left", "baseline": "middle", "fontSize": 7, "dx": 12, "fontWeight": "bold"}, "encoding": {"text": {"field": "s"}}},
     {"data": {"name": "blab"}, "transform": [{"filter": "datum.p == 'b'"}], "mark": {"type": "text", "align": "left", "baseline": "middle", "fontSize": 10, "fontWeight": "bold"}, "encoding": {"text": {"field": "s"}}}
    ]
   }
  ]
 }
]
}
